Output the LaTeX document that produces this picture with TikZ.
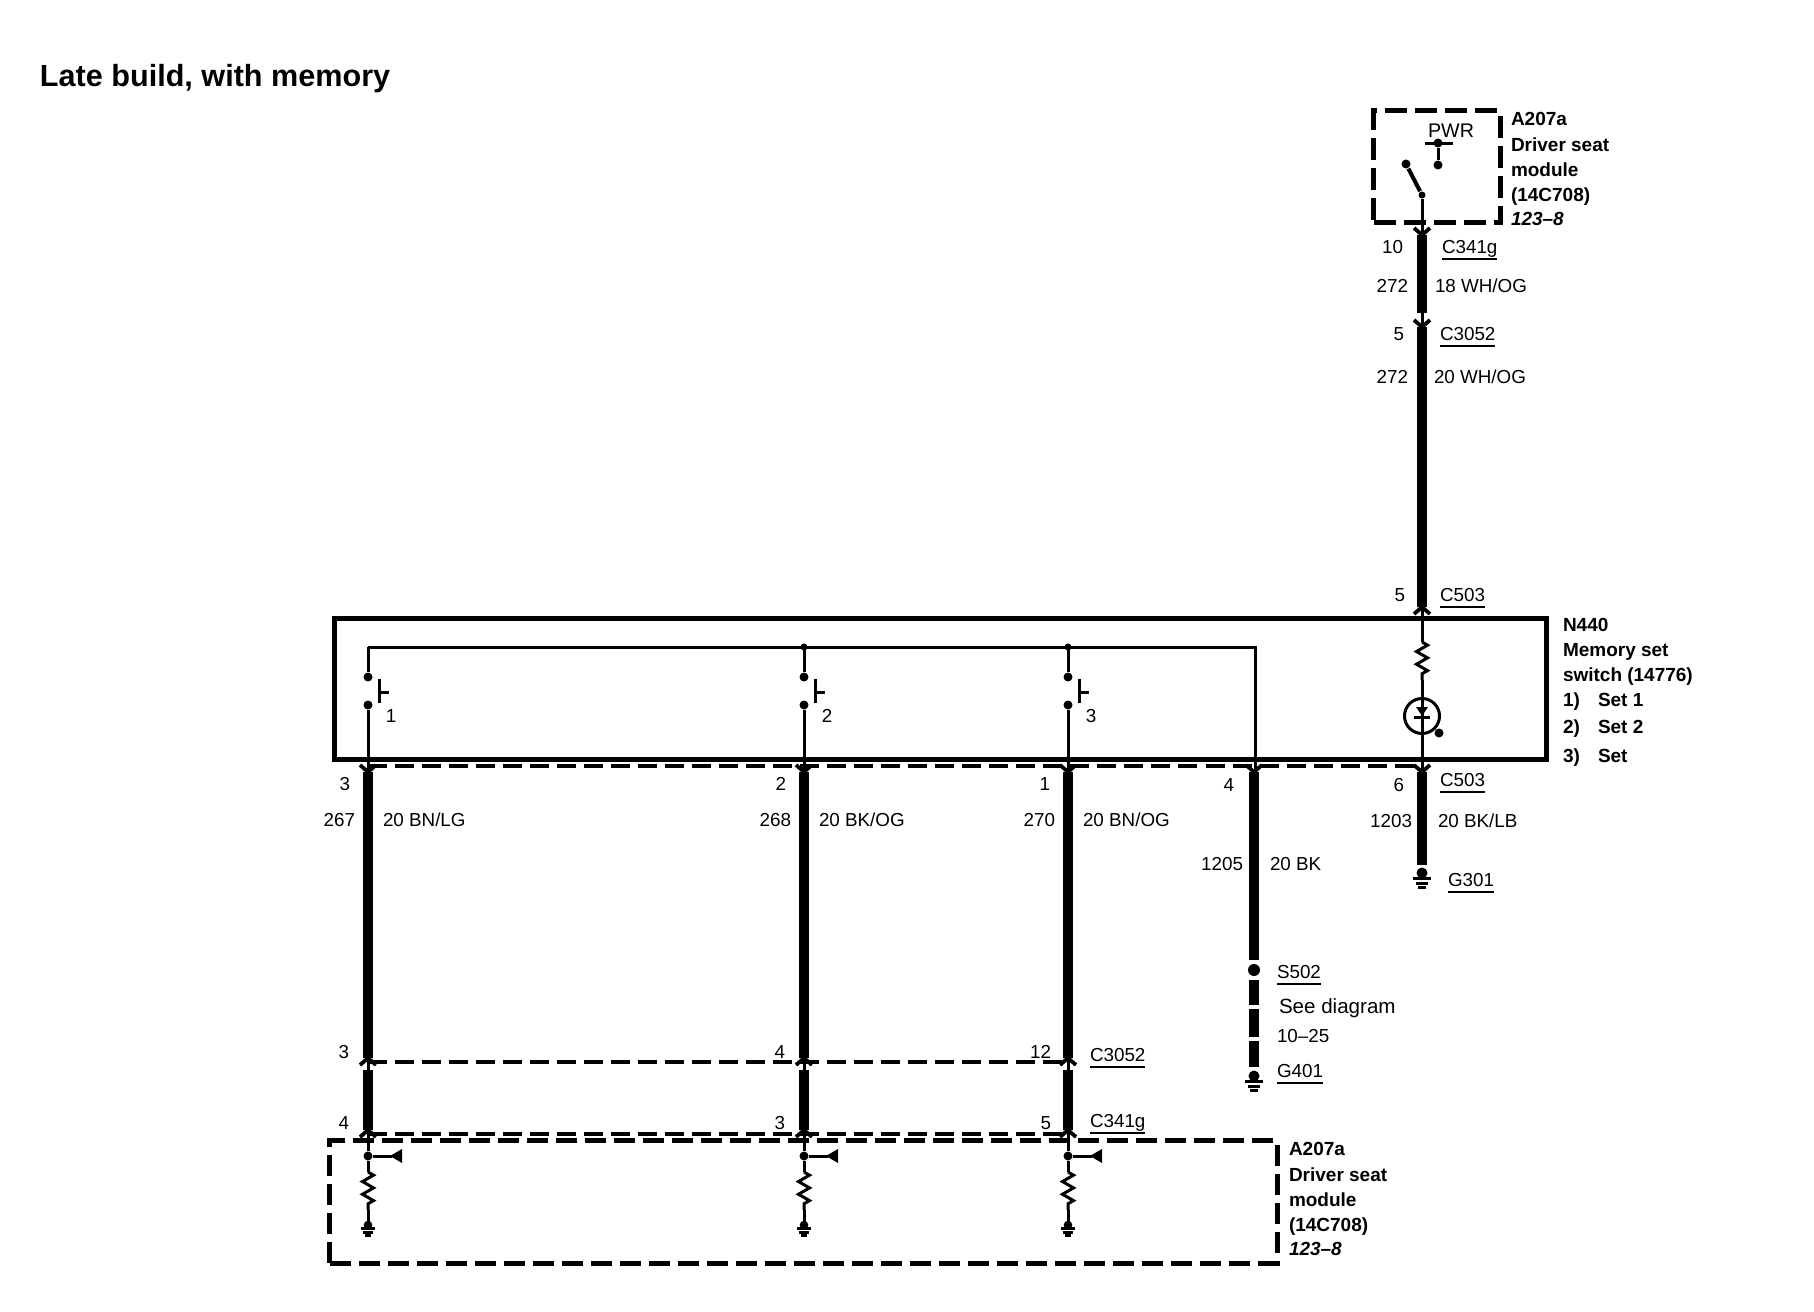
\documentclass[tikz,border=0pt]{standalone}
\usepackage{fontspec}
\setmainfont{Liberation Sans}
\usetikzlibrary{positioning,calc,decorations.pathmorphing,arrows.meta}

\tikzset{
    wirelabel/.style={font=\fontsize{5.35}{6}\selectfont,inner sep=0pt,outer sep=0pt},
    boldlabel/.style={font=\fontsize{5.4}{6}\selectfont\bfseries,inner sep=0pt,outer sep=0pt,anchor=base west},
    titlelabel/.style={font=\fontsize{8.7}{10}\selectfont\bfseries,inner sep=0pt,outer sep=0pt,anchor=base west},
    thinwire/.style={line width=0.03cm},
    thickwire/.style={line width=0.095cm},
    pinwire/.style={line width=0.038cm},
    pindash/.style={line width=0.032cm,dash pattern=on 0.19cm off 0.08cm},
    modbox/.style={draw,line width=0.05cm,dash pattern=on 0.22cm off 0.08cm,inner sep=0pt},
    switchbox/.style={draw,line width=0.05cm,inner sep=0pt},
    dot/.style={circle,fill,inner sep=0pt,minimum size=0.09cm},
    jdot/.style={circle,fill,inner sep=0pt,minimum size=0.07cm},
    bigdot/.style={circle,fill,inner sep=0pt,minimum size=0.12cm},
    resist/.style={thinwire,decorate,decoration={zigzag,segment length=0.127cm,amplitude=0.055cm}},
}

% connector name with a rule under it
\newcommand{\connlabel}[4]{
    \node[wirelabel,anchor=base west] (#1) at (#2,#3) {#4};
    \draw[line width=0.018cm] ([yshift=-0.063cm]#1.base west) -- ([yshift=-0.063cm]#1.base east);
}
% pin chevrons, tip at (x,y)
\newcommand{\pindown}[2]{\draw[pinwire] (#1-8,#2-7) -- (#1,#2) -- (#1+8,#2-7);}
\newcommand{\pinup}[2]{\draw[pinwire] (#1-8,#2+7) -- (#1,#2) -- (#1+8,#2+7);}
% ground: x, y, size
\newcommand{\groundsym}[3]{
    \fill (#1,#2) circle ({5.5*#3});
    \draw[thinwire] (#1-9*#3,#2+5*#3) -- (#1+9*#3,#2+5*#3);
    \draw[thinwire] (#1-6*#3,#2+10*#3) -- (#1+6*#3,#2+10*#3);
    \draw[thinwire] (#1-4*#3,#2+14*#3) -- (#1+4*#3,#2+14*#3);
}
% module text: x, first baseline
\newcommand{\modlabel}[2]{
    \node[boldlabel] at (#1,#2) {A207a};
    \node[boldlabel] at (#1,#2+26) {Driver seat};
    \node[boldlabel] at (#1,#2+51) {module};
    \node[boldlabel] at (#1,#2+76) {(14C708)};
    \node[boldlabel,font=\fontsize{5.4}{6}\selectfont\bfseries\itshape] at (#1,#2+100) {123--8};
}

\begin{document}
\begin{tikzpicture}[x=0.01cm,y=-0.01cm]
    \useasboundingbox (0,0) rectangle (1814,1312);

    \node[titlelabel] (title) at (40,87) {Late build, with memory};

    % top module
    \node[modbox,minimum width=1.26cm,minimum height=1.11cm] (topmod) at (1437,166.5) {};
    \modlabel{1511}{125}
    \node[wirelabel,anchor=base,font=\fontsize{5.6}{6}\selectfont] (pwr) at (1451,137) {PWR};
    \node[dot] (pwrbar) at (1438,143) {};
    \node[dot] (pwrend) at (1438,165) {};
    \node[dot] (swfree) at (1406,164) {};
    \node[jdot] (swpivot) at (1422,195) {};
    \draw[thinwire] (1425,143) -- (1453,143);
    \draw[thinwire] (pwrbar) -- (pwrend);
    \draw[line width=0.04cm] (swfree) -- (swpivot);

    % power wire
    \coordinate (pin10) at (1422,235);
    \coordinate (pin10b) at (1422,313);
    \coordinate (pin5) at (1422,327);
    \coordinate (pin5b) at (1422,607);
    \draw[thinwire] (swpivot) -- (pin10);
    \draw[thinwire] (pin10b) -- (pin5);
    \draw[thickwire] (pin10) -- (pin10b);
    \draw[thickwire] (pin5) -- (pin5b);
    \pindown{1422}{235}
    \pindown{1422}{327}
    \pinup{1422}{607}
    \node[wirelabel,anchor=base east] (n10) at (1403,253) {10};
    \connlabel{c341top}{1442}{253}{C341g}
    \node[wirelabel,anchor=base east] (n272a) at (1408,292) {272};
    \node[wirelabel,anchor=base west] (col272a) at (1435,292) {18 WH/OG};
    \node[wirelabel,anchor=base east] (n5a) at (1404,340) {5};
    \connlabel{c3052top}{1440}{340}{C3052}
    \node[wirelabel,anchor=base east] (n272b) at (1408,383) {272};
    \node[wirelabel,anchor=base west] (col272b) at (1434,383) {20 WH/OG};
    \node[wirelabel,anchor=base east] (n5b) at (1405,601) {5};
    \connlabel{c503top}{1440}{601}{C503}

    % memory set switch
    \node[switchbox,minimum width=12.11cm,minimum height=1.40cm] (switch) at (940.5,689) {};
    \node[boldlabel] at (1563,631) {N440};
    \node[boldlabel] at (1563,656) {Memory set};
    \node[boldlabel] at (1563,681) {switch (14776)};
    \foreach \n/\y/\t in {1/706/Set 1,2/733/Set 2,3/762/Set} {
        \node[boldlabel] (set\n) at (1563,\y) {\n)};
        \node[boldlabel] at (1598,\y) {\t};
    }

    % lamp branch
    \coordinate (lamptop) at (1422,642);
    \coordinate (lampres) at (1422,680);
    \node[circle,draw,thinwire,inner sep=0pt,minimum size=0.35cm] (lamp) at (1422,716) {};
    \coordinate (pin6) at (1422,772);
    \coordinate (gnd6) at (1422,865);
    \draw[thinwire] (pin5b) -- (lamptop);
    \draw[resist] (lamptop) -- (lampres);
    \draw[thinwire] (lampres) -- (pin6);
    \fill (1416,707) -- (1428,707) -- (1422,716) -- cycle;
    \draw[thinwire] (1414,717) -- (1430,717);
    \node[dot] (lampdot) at (1439,733) {};
    \draw[thickwire] (pin6) -- (gnd6);
    \pindown{1422}{772}
    \groundsym{1422}{873}{1}
    \node[wirelabel,anchor=base east] (n6) at (1404,791) {6};
    \connlabel{c503low}{1440}{786}{C503}
    \node[wirelabel,anchor=base east] (n1203) at (1412,827) {1203};
    \node[wirelabel,anchor=base west] (col1203) at (1438,827) {20 BK/LB};
    \connlabel{g301}{1448}{886}{G301}

    % driver seat module, bottom
    \node[modbox,minimum width=9.47cm,minimum height=1.22cm,dash pattern=on 0.21cm off 0.08cm] (lowmod) at (803.5,1202) {};
    \modlabel{1289}{1155}

    % the three switches
    \foreach \n/\xx/\pa/\wa/\ca/\pb/\pc/\off in {1/368/3/267/{20 BN/LG}/3/4/19,2/804/2/268/{20 BK/OG}/4/3/19,3/1068/1/270/{20 BN/OG}/12/5/17} {
        \coordinate (bus\n) at (\xx,647);
        \node[dot] (on\n) at (\xx,677) {};
        \node[dot] (off\n) at (\xx,705) {};
        \coordinate (top\n) at (\xx,772);
        \coordinate (mid\n) at (\xx,1058);
        \coordinate (midb\n) at (\xx,1070);
        \coordinate (low\n) at (\xx,1130);
        \node[dot] (tap\n) at (\xx,1156) {};
        \coordinate (res\n) at (\xx,1172);
        \coordinate (resb\n) at (\xx,1210);
        \coordinate (gnd\n) at (\xx,1225);
        \draw[thinwire] (bus\n) -- (on\n);
        \draw[thinwire] (off\n) -- (top\n);
        \draw[thinwire] (\xx+11,679) -- (\xx+11,703);
        \draw[thinwire] (\xx+11,692) -- (\xx+21,692);
        \node[wirelabel,anchor=base] at (\xx+23,722) {\n};
        \draw[thickwire] (top\n) -- (mid\n);
        \draw[thickwire] (midb\n) -- (low\n);
        \draw[thinwire] (mid\n) -- (midb\n);
        \draw[thinwire] (low\n) -- (tap\n) -- (res\n);
        \draw[resist] (res\n) -- (resb\n);
        \draw[thinwire] (resb\n) -- (gnd\n);
        \draw[thinwire] (tap\n) -- (\xx+24,1156);
        \fill (\xx+22,1156) -- (\xx+34,1149) -- (\xx+34,1163) -- cycle;
        \groundsym{\xx}{1225}{0.78}
        \pindown{\xx}{772}
        \pinup{\xx}{1058}
        \pinup{\xx}{1130}
        \node[wirelabel,anchor=base east] at (\xx-18,790) {\pa};
        \node[wirelabel,anchor=base east] at (\xx-13,826) {\wa};
        \node[wirelabel,anchor=base west] at (\xx+15,826) {\ca};
        \node[wirelabel,anchor=base east] at (\xx-\off,1058) {\pb};
        \node[wirelabel,anchor=base east] at (\xx-\off,1129) {\pc};
    }
    \node[jdot] (bus2dot) at (bus2) {};
    \node[jdot] (bus3dot) at (bus3) {};

    % ground wire through S502
    \coordinate (bus4) at (1255,647);
    \coordinate (top4) at (1255,772);
    \node[bigdot] (s502) at (1254,970) {};
    \draw[thinwire] (bus1) -- (bus4) -- (top4);
    \draw[thickwire] (1254,772) -- (1254,960);
    \draw[thickwire] (1254,980) -- (1254,1005);
    \draw[thickwire] (1254,1009) -- (1254,1037);
    \draw[thickwire] (1254,1041) -- (1254,1067);
    \pindown{1254}{772}
    \groundsym{1254}{1076}{1}
    \node[wirelabel,anchor=base east] (n4) at (1234,791) {4};
    \node[wirelabel,anchor=base east] (n1205) at (1243,870) {1205};
    \node[wirelabel,anchor=base west] (col1205) at (1270,870) {20 BK};
    \connlabel{s502lab}{1277}{978}{S502}
    \node[wirelabel,anchor=base west,font=\fontsize{5.85}{6}\selectfont] (seediag) at (1279,1013) {See diagram};
    \node[wirelabel,anchor=base west] (seenum) at (1277,1042) {10--25};
    \connlabel{g401}{1277}{1077}{G401}

    % connector rows
    \draw[pindash] (368,766) -- (1422,766);
    \draw[pindash] (368,1062) -- (1068,1062);
    \draw[pindash] (368,1134) -- (1068,1134);
    \connlabel{c3052low}{1090}{1061}{C3052}
    \connlabel{c341low}{1090}{1127}{C341g}
\end{tikzpicture}
\end{document}
